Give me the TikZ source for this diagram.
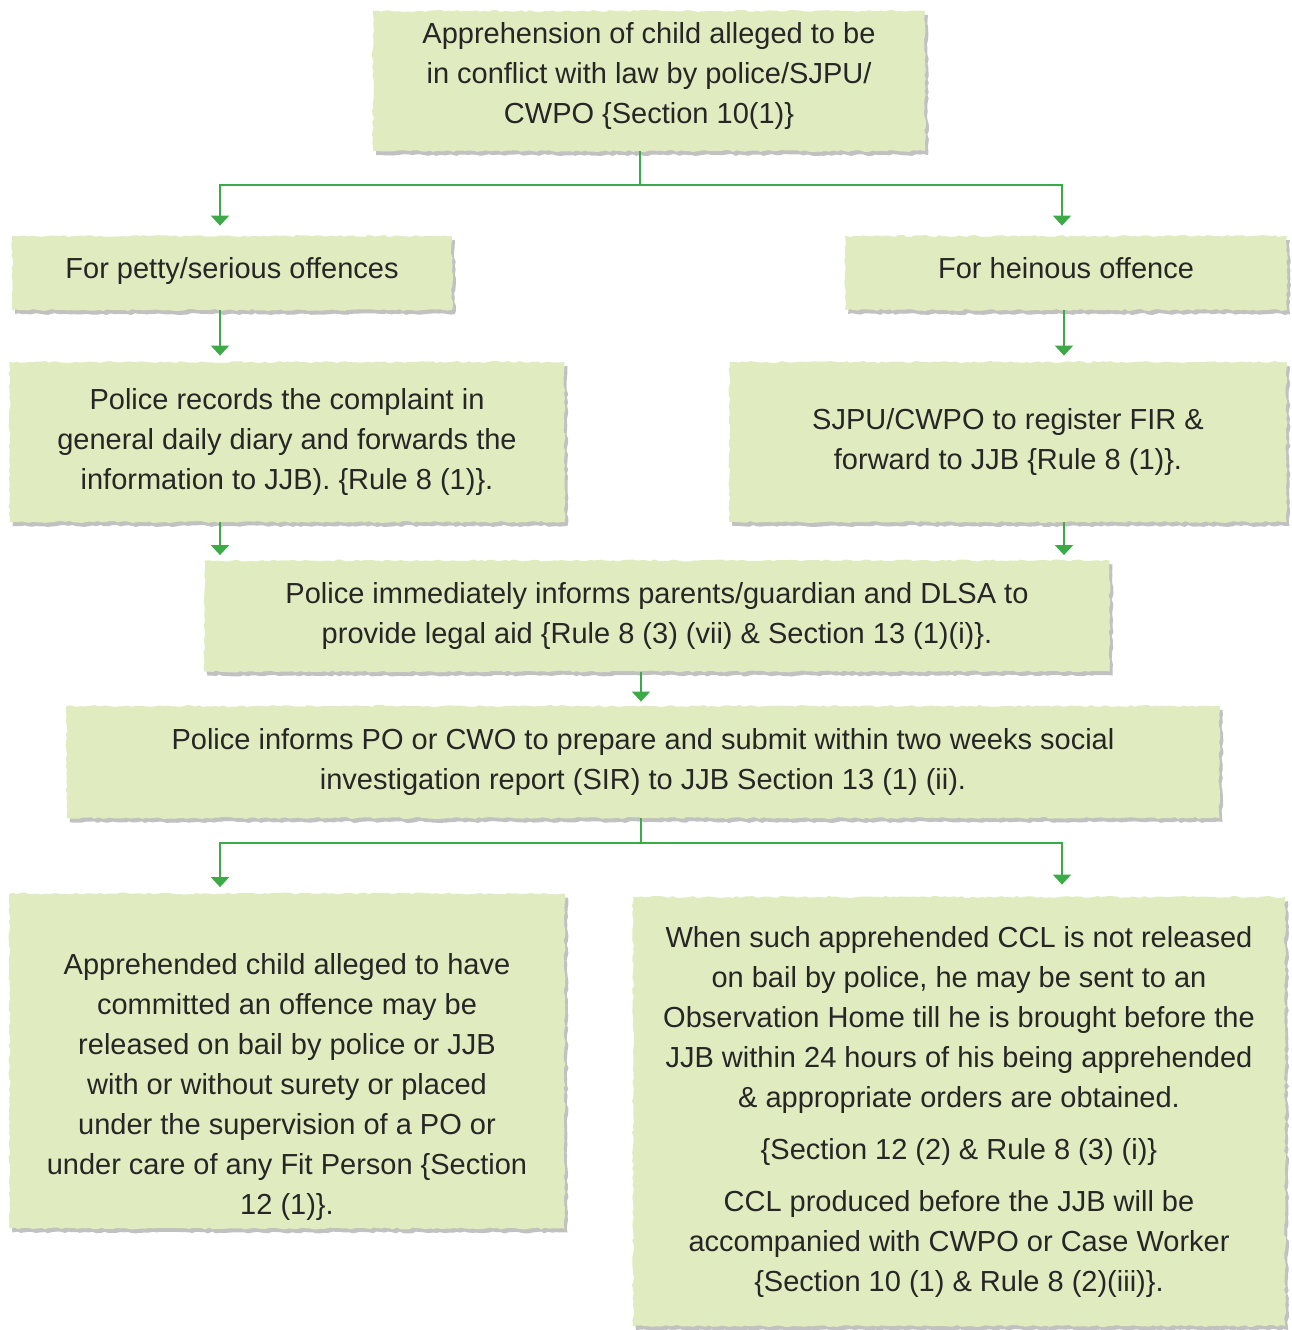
\documentclass[tikz,border=0pt]{standalone}
\usepackage{fontspec}
\setmainfont{Liberation Sans}
\usetikzlibrary{arrows.meta,shadows,decorations.pathmorphing}
\definecolor{stagefill}{RGB}{224,235,191}
\definecolor{linkgreen}{RGB}{60,170,70}
\pgfmathsetseed{11}
\begin{document}
\begin{tikzpicture}[x=0.5pt, y=-0.5pt,
    note/.style={align=center, font=\fontsize{14.5}{20}\selectfont, text=black!85},
    stage/.style={rectangle, note, fill=stagefill, inner sep=0pt,
      decorate, decoration={random steps, segment length=2pt, amplitude=0.5pt},
      drop shadow={shadow xshift=1.5pt, shadow yshift=-2pt, fill=black!35, opacity=0.7}},
    link/.style={draw=linkgreen, line width=1pt, -{Triangle[width=9pt,length=5pt]}, shorten >=3pt}]

    \useasboundingbox (0,0) rectangle (1292,1330);

    \node[stage, minimum width=276pt, minimum height=70pt] (appr) at (649,81)
        {Apprehension of child alleged to be\\in conflict with law by police/SJPU/\\CWPO \{Section 10(1)\}\\[-12pt]};
    \node[stage, minimum width=220pt, minimum height=37pt, text depth=5pt] (petty) at (232,273) {For petty/serious offences};
    \node[stage, minimum width=221pt, minimum height=37pt, text depth=5pt] (heinous) at (1066,273) {For heinous offence};
    \node[stage, minimum width=277.5pt, minimum height=80pt] (records) at (287,442)
        {Police records the complaint in\\general daily diary and forwards the\\information to JJB). \{Rule 8 (1)\}.};
    \node[stage, minimum width=278.5pt, minimum height=80pt] (fir) at (1008,442)
        {SJPU/CWPO to register FIR \&\\forward to JJB \{Rule 8 (1)\}.};
    \node[stage, minimum width=452.5pt, minimum height=55.5pt] (inform) at (657,616)
        {Police immediately informs parents/guardian and DLSA to\\provide legal aid \{Rule 8 (3) (vii) \& Section 13 (1)(i)\}.};
    \node[stage, minimum width=576.5pt, minimum height=56pt] (sir) at (643,762)
        {Police informs PO or CWO to prepare and submit within two weeks social\\investigation report (SIR) to JJB Section 13 (1) (ii).};
    \node[stage, minimum width=277.5pt, minimum height=167.5pt] (bail) at (287,1061) {};
    \node[note] (bailtext) at (287,1087)
        {Apprehended child alleged to have\\committed an offence may be\\released on bail by police or JJB\\with or without surety or placed\\under the supervision of a PO or\\under care of any Fit Person \{Section\\12 (1)\}.};
    \node[stage, minimum width=326pt, minimum height=214.5pt] (custody) at (959,1111.5)
        {When such apprehended CCL is not released\\on bail by police, he may be sent to an\\Observation Home till he is brought before the\\JJB within 24 hours of his being apprehended\\\& appropriate orders are obtained.\\[6pt]
         \{Section 12 (2) \& Rule 8 (3) (i)\}\\[6pt]
         CCL produced before the JJB will be\\accompanied with CWPO or Case Worker\\\{Section 10 (1) \& Rule 8 (2)(iii)\}.};

    \coordinate (split1) at (640,185);
    \coordinate (split2) at (641,843);
    \draw[link, shorten >=5pt] ([xshift=-4.5pt]appr.south) -- (split1) -| ([xshift=-6pt]petty.north);
    \draw[link, shorten >=5pt] (split1) -| ([xshift=-2pt]heinous.north);
    \draw[link] ([xshift=-6pt]petty.south) -- ([xshift=-6pt]petty.south |- records.north);
    \draw[link] ([xshift=-1pt]heinous.south) -- ([xshift=-1pt]heinous.south |- fir.north);
    \draw[link, shorten >=2.5pt] ([xshift=-33.5pt]records.south) -- ([xshift=-33.5pt]records.south |- inform.north);
    \draw[link, shorten >=2.5pt] ([xshift=28pt]fir.south) -- ([xshift=28pt]fir.south |- inform.north);
    \draw[link, shorten >=2pt] ([xshift=-8pt]inform.south) -- ([xshift=-8pt]inform.south |- sir.north);
    \draw[link] ([xshift=-1pt]sir.south) -- (split2) -| ([xshift=-33.5pt]bail.north);
    \draw[link, shorten >=6pt] (split2) -| ([xshift=51.5pt]custody.north);
\end{tikzpicture}
\end{document}
